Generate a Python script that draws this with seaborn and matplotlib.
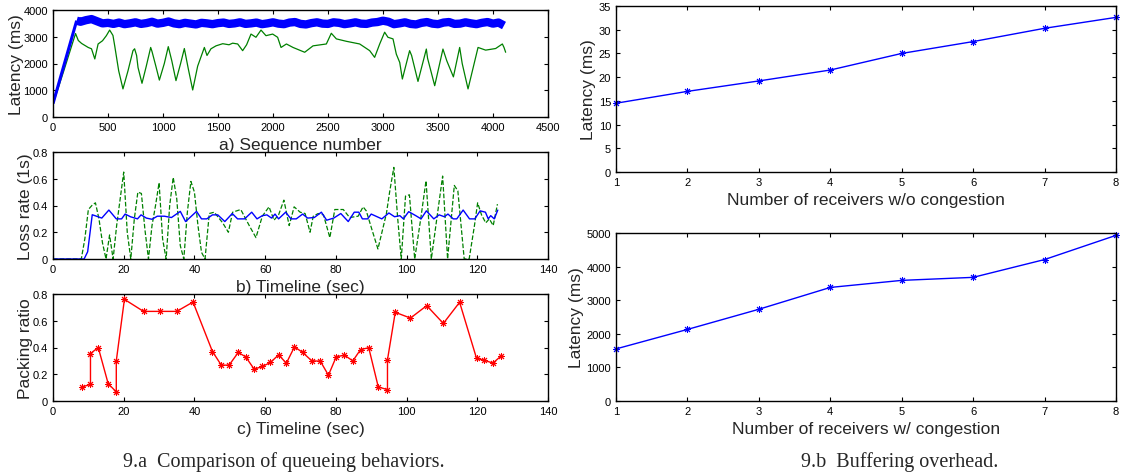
import pandas as pd
import matplotlib
matplotlib.use("Agg")
import matplotlib.pyplot as plt
from matplotlib.ticker import FormatStrFormatter
import seaborn as sns

# === 数据 ===
# a) latency vs sequence number
blue_ramp_seq = [0, 215]
blue_ramp_lat = [500, 3600]
blue_seq = [215, 250, 300, 350, 400, 450, 500, 550, 600, 650, 700, 750, 800, 850, 900, 950,
            1000, 1050, 1100, 1150, 1200, 1250, 1300, 1350, 1400, 1450, 1500, 1550, 1600, 1650,
            1700, 1750, 1800, 1850, 1900, 1950, 2000, 2050, 2100, 2150, 2200, 2250, 2300, 2350,
            2400, 2450, 2500, 2550, 2600, 2650, 2700, 2750, 2800, 2850, 2900, 2950, 3000, 3050,
            3100, 3150, 3200, 3250, 3300, 3350, 3400, 3450, 3500, 3550, 3600, 3650, 3700, 3750,
            3800, 3850, 3900, 3950, 4000, 4050, 4100]
blue_lat = [3600, 3560, 3620, 3660, 3580, 3500, 3520, 3480, 3530, 3470, 3500, 3540, 3480, 3510,
            3560, 3490, 3520, 3570, 3500, 3470, 3520, 3490, 3460, 3520, 3500, 3470, 3510, 3530,
            3480, 3500, 3540, 3480, 3500, 3530, 3470, 3500, 3540, 3490, 3470, 3530, 3550, 3480,
            3460, 3510, 3540, 3490, 3480, 3540, 3520, 3470, 3500, 3540, 3490, 3480, 3530, 3550,
            3600, 3560, 3470, 3500, 3540, 3480, 3460, 3520, 3550, 3490, 3470, 3530, 3550, 3480,
            3490, 3540, 3500, 3470, 3520, 3550, 3490, 3530, 3420]
green_seq = [0, 100, 205, 230, 260, 320, 350, 380, 410, 450, 485, 515, 545, 561, 597, 636, 682,
             727, 742, 760, 773, 809, 848, 888, 900, 935, 967, 1012, 1048, 1080, 1118, 1160, 1194,
             1230, 1270, 1315, 1376, 1400, 1436, 1482, 1543, 1600, 1633, 1679, 1724, 1760, 1800,
             1845, 1891, 1936, 1997, 2042, 2073, 2122, 2182, 2288, 2364, 2485, 2530, 2576, 2667,
             2788, 2879, 2924, 2970, 3015, 3045, 3091, 3121, 3152, 3176, 3242, 3260, 3318, 3394,
             3405, 3470, 3545, 3580, 3640, 3697, 3720, 3773, 3864, 3933, 4024, 4085, 4100, 4115]
green_lat = [480, 1750, 3120, 2860, 2750, 2600, 2550, 2170, 2730, 2850, 3040, 3250, 3050, 2660,
             1730, 1050, 1730, 2480, 2550, 2300, 1850, 1260, 1900, 2600, 2450, 1900, 1380, 2000,
             2630, 2100, 1360, 2000, 2560, 1800, 1010, 1900, 2600, 2300, 2550, 2660, 2740, 2700,
             2760, 2730, 2480, 2700, 3100, 2980, 3250, 3040, 3100, 2980, 2600, 2730, 2600, 2420,
             2660, 2730, 3130, 2920, 2830, 2730, 2480, 2230, 2730, 3170, 2980, 2920, 2350, 2040,
             1420, 2480, 2300, 1330, 2540, 2200, 1170, 2540, 2100, 1500, 2600, 2000, 1050, 2600,
             2500, 2560, 2730, 2600, 2420]

# b) loss rate vs time
loss_blue_t = [0, 8.8, 9.8, 11.1, 13.8, 15.8, 17.9, 19.4, 20.4, 21.9, 23.9, 24.9, 26.4, 28.0,
               29.5, 31.5, 33.5, 36.0, 37.5, 40.6, 42.0, 43.5, 45.1, 46.6, 48.6, 50.7, 52.2, 54.2,
               56.2, 57.7, 59.2, 60.5, 61.8, 62.8, 63.8, 65.8, 67.3, 68.8, 70.6, 72.0, 73.9, 75.9,
               77.4, 79.4, 81.4, 83.5, 85.2, 86.5, 87.5, 89.0, 90.0, 93.0, 95.0, 96.6, 98.1, 99.1,
               100.6, 102.6, 104.1, 105.6, 107.7, 109.2, 110.7, 111.7, 113.2, 114.2, 116.0, 117.8,
               119.3, 120.8, 122.3, 123.1, 123.8, 124.8, 125.8]
loss_blue_v = [0, 0, 0.054, 0.331, 0.306, 0.366, 0.30, 0.30, 0.336, 0.316, 0.30, 0.33, 0.306,
               0.297, 0.32, 0.32, 0.31, 0.356, 0.28, 0.356, 0.30, 0.30, 0.33, 0.33, 0.28, 0.34,
               0.30, 0.30, 0.35, 0.30, 0.324, 0.33, 0.306, 0.336, 0.30, 0.35, 0.30, 0.30, 0.336,
               0.306, 0.31, 0.35, 0.29, 0.306, 0.34, 0.28, 0.35, 0.35, 0.30, 0.30, 0.336, 0.30,
               0.344, 0.316, 0.324, 0.30, 0.354, 0.324, 0.30, 0.36, 0.30, 0.33, 0.316, 0.336, 0.30,
               0.30, 0.366, 0.30, 0.30, 0.36, 0.35, 0.30, 0.324, 0.30, 0.366]
loss_green_t = [0, 8, 9, 10, 11, 12, 13, 14, 15, 16, 17, 18, 19, 20, 21, 22, 23, 24, 25, 26, 27,
                28, 29, 30, 31, 32, 33, 34, 35, 36, 37, 38, 39, 40, 41, 42, 43, 44.2, 45.6, 48.0,
                49.6, 50.8, 53.1, 55.5, 57.4, 59.2, 61.1, 62.5, 63.8, 65.3, 66.8, 68.2, 69.9, 71.3,
                72.7, 73.6, 75.0, 76.5, 78.3, 79.7, 82.1, 83.9, 86.3, 87.7, 88.6, 90.2, 91.9, 94.3,
                95.2, 96.4, 97.5, 98.5, 99.7, 100.8, 102.3, 104.0, 105.5, 107.0, 108.8, 110.2,
                111.6, 113.5, 114.5, 116.3, 117.7, 119.2, 120.1, 121.2, 122.4, 123.4, 124.5, 125.7]
loss_green_v = [0, 0, 0.15, 0.37, 0.40, 0.42, 0.30, 0.12, 0.0, 0.18, 0.0, 0.25, 0.45, 0.65, 0.2,
                0.0, 0.30, 0.50, 0.49, 0.22, 0.0, 0.25, 0.40, 0.57, 0.15, 0.0, 0.40, 0.61, 0.45,
                0.10, 0.0, 0.35, 0.58, 0.50, 0.25, 0.05, 0.0, 0.34, 0.35, 0.27, 0.20, 0.35, 0.37,
                0.25, 0.16, 0.32, 0.39, 0.29, 0.33, 0.44, 0.25, 0.39, 0.35, 0.34, 0.20, 0.32, 0.34,
                0.33, 0.16, 0.37, 0.37, 0.31, 0.32, 0.39, 0.36, 0.22, 0.075, 0.34, 0.50, 0.685, 0.30,
                0.0, 0.47, 0.48, 0.0, 0.30, 0.585, 0.0, 0.35, 0.62, 0.0, 0.55, 0.51, 0.0, 0.0, 0.25,
                0.42, 0.33, 0.27, 0.30, 0.25, 0.41]

# c) packing ratio vs time
pack_t = [8.3, 10.6, 10.6, 12.8, 15.6, 17.9, 17.9, 20.2, 25.6, 30.2, 35.0, 39.6, 45.1, 47.6,
          49.8, 52.4, 54.5, 56.9, 59.2, 61.5, 63.8, 66.0, 68.3, 70.6, 73.2, 75.6, 77.9, 80.1,
          82.4, 84.8, 87.0, 89.3, 92.0, 94.6, 94.6, 96.8, 101.1, 105.7, 110.4, 115.0, 119.8,
          122.0, 124.4, 126.8]
pack_v = [0.105, 0.125, 0.355, 0.40, 0.13, 0.068, 0.30, 0.76, 0.67, 0.67, 0.67, 0.74, 0.37,
          0.268, 0.268, 0.363, 0.33, 0.238, 0.258, 0.288, 0.345, 0.283, 0.405, 0.363, 0.30, 0.298,
          0.193, 0.33, 0.343, 0.30, 0.385, 0.398, 0.105, 0.085, 0.308, 0.663, 0.62, 0.713, 0.58,
          0.738, 0.318, 0.305, 0.283, 0.338]

# 9.b buffering overhead
receivers = [1, 2, 3, 4, 5, 6, 7, 8]
lat_no_cong = [14.5, 17.0, 19.2, 21.5, 25.0, 27.5, 30.3, 32.6]
lat_cong = [1550, 2130, 2730, 3380, 3590, 3680, 4210, 4930]

# === 样式 ===
sns.set_style("ticks")
plt.rcParams['font.family'] = ['Liberation Sans', 'DejaVu Sans']
plt.rcParams['xtick.direction'] = 'in'
plt.rcParams['ytick.direction'] = 'in'
plt.rcParams['axes.linewidth'] = 1.0
plt.rcParams['axes.edgecolor'] = 'black'

BLUE, GREEN, RED = '#0000ff', '#008000', '#ff0000'
TICK_FS, LABEL_FS = 8, 12.5
ASTERISK = (8, 2, 0)  # matlab-like '*'
MS, MEW = 5, 0.7

fig = plt.figure(figsize=(11.23, 4.77), dpi=100)
W, H = 1123, 477


def add_ax(x0, y0, x1, y1):
    return fig.add_axes([x0 / W, 1 - y1 / H, (x1 - x0) / W, (y1 - y0) / H])


def style(ax, xlabel, ylabel, ypad=0):
    ax.tick_params(top=True, right=True, labelsize=TICK_FS, length=3, width=0.8, colors='black')
    ax.set_xlabel(xlabel, fontsize=LABEL_FS, labelpad=4)
    ax.set_ylabel(ylabel, fontsize=LABEL_FS, labelpad=ypad)
    for s in ax.spines.values():
        s.set_visible(True)


ax1 = add_ax(53, 11, 548, 118)
ax2 = add_ax(53, 153, 548, 260)
ax3 = add_ax(53, 295, 548, 402)
ax4 = add_ax(616, 7, 1116, 173)
ax5 = add_ax(616, 234, 1116, 402)

# a)
sns.lineplot(x=green_seq, y=green_lat, ax=ax1, color=GREEN, lw=0.9, estimator=None, sort=False)
sns.lineplot(x=blue_ramp_seq, y=blue_ramp_lat, ax=ax1, color=BLUE, lw=2.2, estimator=None,
             sort=False, solid_capstyle='butt')
sns.lineplot(x=blue_seq, y=blue_lat, ax=ax1, color=BLUE, lw=6.0, estimator=None, sort=False,
             solid_capstyle='butt')
ax1.set_xlim(0, 4500)
ax1.set_ylim(0, 4000)
ax1.set_xticks(range(0, 4501, 500))
ax1.set_yticks(range(0, 4001, 1000))
style(ax1, "a) Sequence number", "Latency (ms)")

# b)
sns.lineplot(x=loss_green_t, y=loss_green_v, ax=ax2, color=GREEN, lw=0.9, linestyle='--',
             estimator=None, sort=False)
sns.lineplot(x=loss_blue_t, y=loss_blue_v, ax=ax2, color=BLUE, lw=1.0, estimator=None, sort=False)
ax2.set_xlim(0, 140)
ax2.set_ylim(0, 0.8)
ax2.set_xticks(range(0, 141, 20))
ax2.set_yticks([0, 0.2, 0.4, 0.6, 0.8])
ax2.yaxis.set_major_formatter(FormatStrFormatter('%g'))
style(ax2, "b) Timeline (sec)", "Loss rate (1s)")

# c)
sns.lineplot(x=pack_t, y=pack_v, ax=ax3, color=RED, lw=1.0, marker=ASTERISK, markersize=MS,
             markeredgewidth=MEW, markeredgecolor=RED, estimator=None, sort=False)
ax3.set_xlim(0, 140)
ax3.set_ylim(0, 0.8)
ax3.set_xticks(range(0, 141, 20))
ax3.set_yticks([0, 0.2, 0.4, 0.6, 0.8])
ax3.yaxis.set_major_formatter(FormatStrFormatter('%g'))
style(ax3, "c) Timeline (sec)", "Packing ratio")

# 9.b
sns.lineplot(x=receivers, y=lat_no_cong, ax=ax4, color=BLUE, lw=1.0, marker=ASTERISK,
             markersize=MS, markeredgewidth=MEW, markeredgecolor=BLUE, estimator=None,
             sort=False, clip_on=False)
ax4.set_xlim(1, 8)
ax4.set_ylim(0, 35)
ax4.set_yticks(range(0, 36, 5))
style(ax4, "Number of receivers w/o congestion", "Latency (ms)", ypad=2)

sns.lineplot(x=receivers, y=lat_cong, ax=ax5, color=BLUE, lw=1.0, marker=ASTERISK,
             markersize=MS, markeredgewidth=MEW, markeredgecolor=BLUE, estimator=None,
             sort=False, clip_on=False)
ax5.set_xlim(1, 8)
ax5.set_ylim(0, 5000)
ax5.set_yticks(range(0, 5001, 1000))
style(ax5, "Number of receivers w/ congestion", "Latency (ms)", ypad=2)

# captions
cap_font = ['Liberation Serif', 'DejaVu Serif']
fig.text(284 / W, 1 - 462 / H, "9.a  Comparison of queueing behaviors.", ha='center', va='center',
         fontsize=14.5, family=cap_font)
fig.text(900 / W, 1 - 462 / H, "9.b  Buffering overhead.", ha='center', va='center',
         fontsize=14.5, family=cap_font)

fig.savefig("out.png", dpi=100)
